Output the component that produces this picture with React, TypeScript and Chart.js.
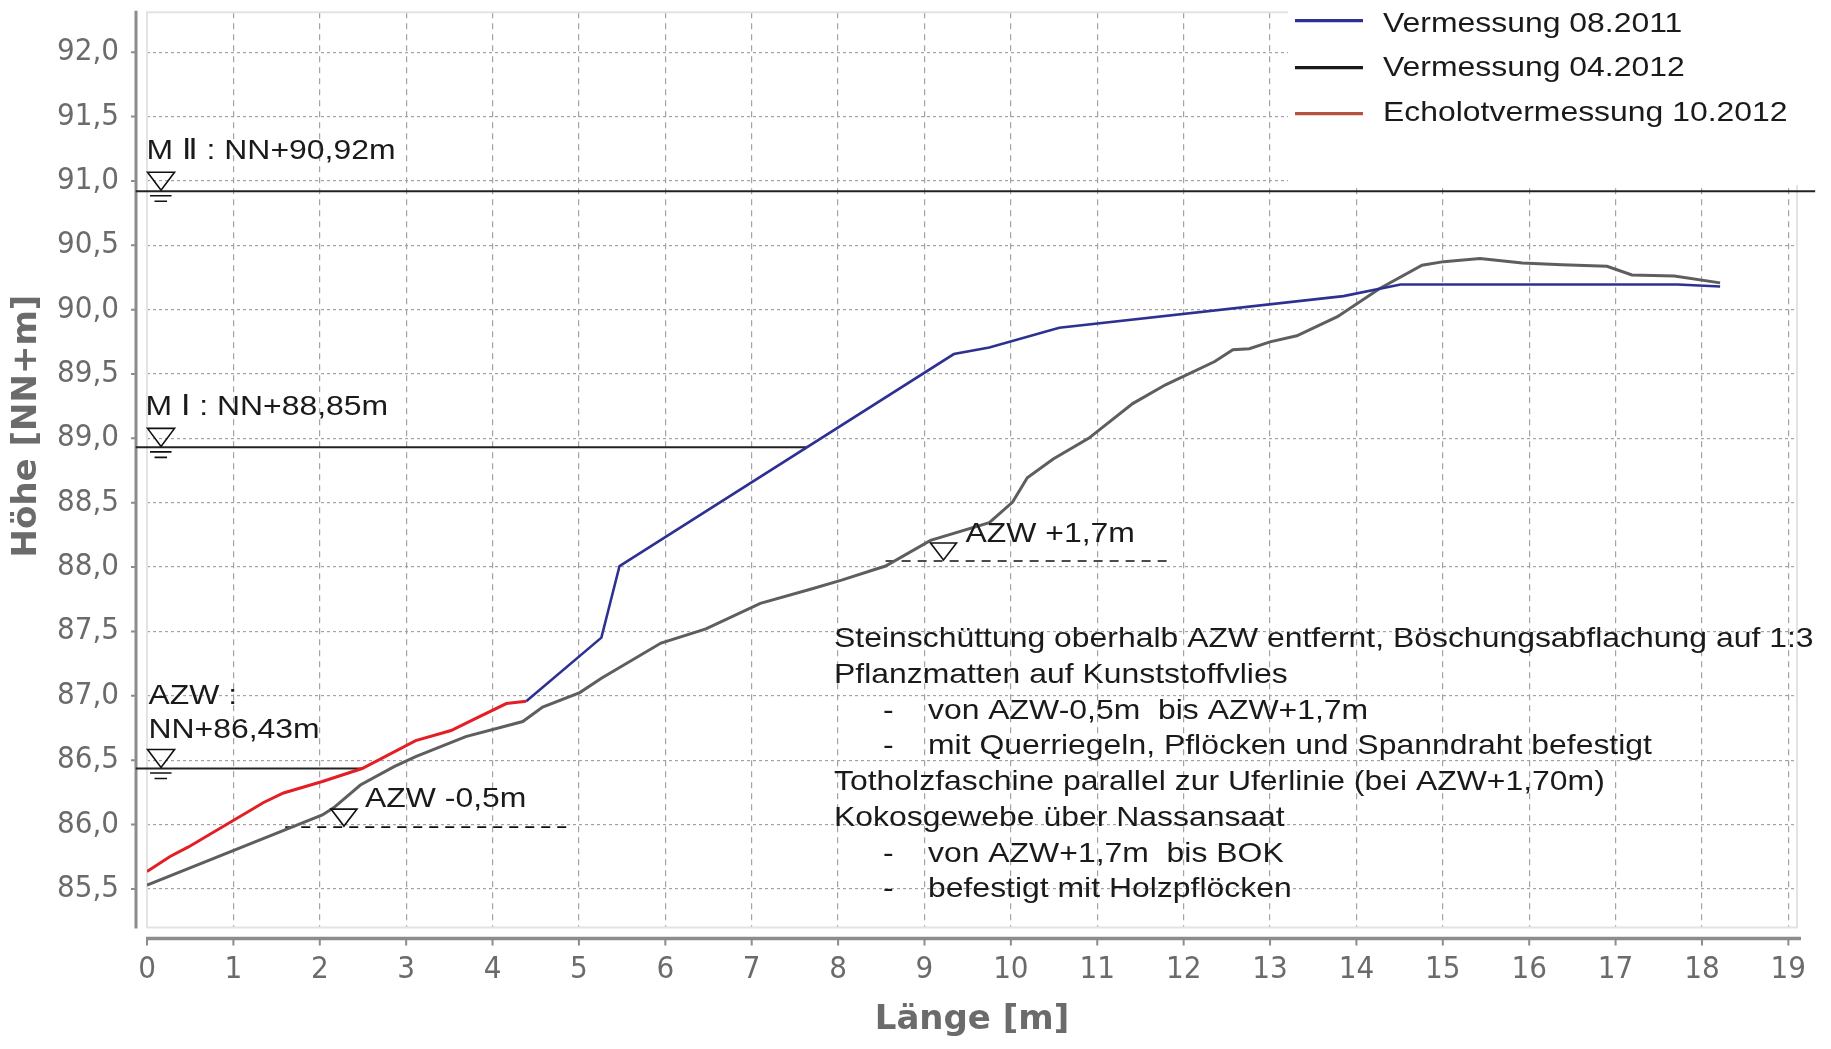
import { useEffect, useRef } from 'react';
import { Chart, registerables } from 'chart.js';

Chart.register(...registerables);

// ---------------- data ----------------
const xTickValues = [0, 1, 2, 3, 4, 5, 6, 7, 8, 9, 10, 11, 12, 13, 14, 15, 16, 17, 18, 19];
const yTickValues = [85.5, 86, 86.5, 87, 87.5, 88, 88.5, 89, 89.5, 90, 90.5, 91, 91.5, 92];

const laenge2011 = [4.39, 5.26, 5.47, 9.34, 9.75, 10.56, 13.85, 14.51, 17.72, 18.21];
const hoehe2011 = [86.957, 87.452, 88.008, 89.655, 89.706, 89.86, 90.105, 90.195, 90.195, 90.18];

const laenge2012 = [0, 2.03, 2.16, 2.47, 2.86, 3.11, 3.69, 4.35, 4.58, 5.01, 5.26, 5.95, 6.47, 7.1, 7.7, 8.04, 8.55, 9.07, 9.75, 10.02, 10.19, 10.49, 10.9, 11.41, 11.79, 12.36, 12.57, 12.76, 13.0, 13.31, 13.78, 14.27, 14.76, 15.01, 15.43, 15.92, 16.38, 16.9, 17.19, 17.68, 18.21];
const hoehe2012 = [85.529, 86.074, 86.13, 86.307, 86.45, 86.528, 86.683, 86.8, 86.913, 87.025, 87.136, 87.41, 87.52, 87.718, 87.832, 87.899, 88.008, 88.207, 88.345, 88.505, 88.694, 88.84, 89.0, 89.27, 89.416, 89.597, 89.688, 89.697, 89.75, 89.797, 89.945, 90.164, 90.345, 90.373, 90.397, 90.363, 90.348, 90.337, 90.27, 90.262, 90.208];

const laengeEcholot = [0, 0.267, 0.48, 1.35, 1.58, 2.03, 2.49, 3.11, 3.52, 3.73, 4.16, 4.39];
const hoeheEcholot = [85.635, 85.752, 85.826, 86.171, 86.245, 86.334, 86.435, 86.652, 86.73, 86.8, 86.94, 86.957];

// water levels (as drawn)
const mIILaenge = [-0.13, 19.31];
const mIIHoehe = [90.92, 90.92];
const mILaenge = [-0.13, 7.64];
const mIHoehe = [88.93, 88.93];
const azwLaenge = [-0.13, 2.49];
const azwHoehe = [86.435, 86.435];
const azwMinusLaenge = [1.6, 4.91];
const azwMinusHoehe = [85.98, 85.98];
const azwPlusLaenge = [8.55, 11.87];
const azwPlusHoehe = [88.047, 88.047];

const symbolLaenge = [0.1625, 0.1625, 0.1625, 2.28, 9.22];
const symbolHoehe = [90.92, 88.93, 86.435, 85.98, 88.047];

const legendLabels = ['Vermessung 08.2011', 'Vermessung 04.2012', 'Echolotvermessung 10.2012'];
const legendColors = ['#2e3192', '#1a1a1a', '#b5533c'];

const noteLines = [
  'Steinschüttung oberhalb AZW entfernt, Böschungsabflachung auf 1:3',
  'Pflanzmatten auf Kunststoffvlies',
  '- von AZW-0,5m  bis AZW+1,7m',
  '- mit Querriegeln, Pflöcken und Spanndraht befestigt',
  'Totholzfaschine parallel zur Uferlinie (bei AZW+1,70m)',
  'Kokosgewebe über Nassansaat',
  '- von AZW+1,7m  bis BOK',
  '- befestigt mit Holzpflöcken',
];

const zip = (xs: number[], ys: number[]) => xs.map((x, i) => ({ x, y: ys[i] }));

// ---------------- styles ----------------
const TEXT = '#1a1a1a';
const TICK = '#6b6b6b';
const AXIS = '#8c8c8c';
const SANS = '"Liberation Sans", Arial, "DejaVu Sans", sans-serif';
const SX = 1.14;

function stretchText(ctx: CanvasRenderingContext2D, s: string, x: number, y: number, size = 28, sx = SX) {
  ctx.save();
  ctx.font = `${size}px ${SANS}`;
  ctx.fillStyle = TEXT;
  ctx.textAlign = 'left';
  ctx.textBaseline = 'alphabetic';
  ctx.translate(x, y);
  ctx.scale(sx, 1);
  ctx.fillText(s, 0, 0);
  ctx.restore();
}

function levelSymbol(ctx: CanvasRenderingContext2D, ax: number, ay: number, w: number, h: number, bars: boolean) {
  ctx.save();
  ctx.strokeStyle = '#111';
  ctx.lineWidth = 1.6;
  ctx.beginPath();
  ctx.moveTo(ax - w / 2, ay - h);
  ctx.lineTo(ax + w / 2, ay - h);
  ctx.lineTo(ax, ay);
  ctx.closePath();
  ctx.stroke();
  if (bars) {
    ctx.beginPath();
    ctx.moveTo(ax - 11, ay + 5.5);
    ctx.lineTo(ax + 10.5, ay + 5.5);
    ctx.moveTo(ax - 6.5, ay + 11);
    ctx.lineTo(ax + 6, ay + 11);
    ctx.stroke();
  }
  ctx.restore();
}

const decorPlugin = {
  id: 'decor',
  beforeDatasetsDraw(chart: any) {
    const { ctx, chartArea: a, scales } = chart;
    const x = scales.x;
    const y = scales.y;
    ctx.save();
    // plot frame
    ctx.strokeStyle = '#e3e3e3';
    ctx.lineWidth = 2;
    ctx.strokeRect(a.left, a.top, a.right - a.left, a.bottom - a.top);
    // legend background
    ctx.fillStyle = '#ffffff';
    ctx.fillRect(x.getPixelForValue(13) + 18, 0, chart.width, 185);
    // y axis line + ticks
    ctx.strokeStyle = AXIS;
    ctx.lineWidth = 3;
    ctx.beginPath();
    ctx.moveTo(a.left - 11, a.top - 1.5);
    ctx.lineTo(a.left - 11, a.bottom + 1);
    ctx.stroke();
    ctx.lineWidth = 2;
    ctx.beginPath();
    for (const v of yTickValues) {
      const py = y.getPixelForValue(v);
      ctx.moveTo(a.left - 16, py);
      ctx.lineTo(a.left - 11, py);
    }
    ctx.stroke();
    // x axis line + ticks
    ctx.lineWidth = 3.5;
    ctx.beginPath();
    ctx.moveTo(a.left - 1, a.bottom + 11);
    ctx.lineTo(a.right + 4, a.bottom + 11);
    ctx.stroke();
    ctx.lineWidth = 2;
    ctx.beginPath();
    for (const v of xTickValues) {
      const px = x.getPixelForValue(v);
      ctx.moveTo(px, a.bottom + 11);
      ctx.lineTo(px, a.bottom + 18);
    }
    ctx.stroke();
    ctx.restore();
  },
  afterDatasetsDraw(chart: any) {
    const { ctx, chartArea: a, scales } = chart;
    const x = scales.x;
    const y = scales.y;
    ctx.save();

    // level symbols
    symbolLaenge.forEach((lx, i) => {
      const px = x.getPixelForValue(lx);
      const py = y.getPixelForValue(symbolHoehe[i]) - 1;
      if (i < 3) levelSymbol(ctx, px, py, 27, 18, true);
      else levelSymbol(ctx, px, py, 26, 17, false);
    });

    // level labels
    const yMII = y.getPixelForValue(mIIHoehe[0]);
    const yMI = y.getPixelForValue(mIHoehe[0]);
    const yAZW = y.getPixelForValue(azwHoehe[0]);
    const yMinus = y.getPixelForValue(azwMinusHoehe[0]);
    const yPlus = y.getPixelForValue(azwPlusHoehe[0]);
    stretchText(ctx, 'M Ⅱ : NN+90,92m', a.left - 0.5, yMII - 32);
    stretchText(ctx, 'M Ⅰ : NN+88,85m', a.left - 1.5, yMI - 32);
    stretchText(ctx, 'AZW :', a.left + 1.5, yAZW - 65);
    stretchText(ctx, 'NN+86,43m', a.left + 1.5, yAZW - 30.5);
    stretchText(ctx, 'AZW -0,5m', x.getPixelForValue(symbolLaenge[3]) + 21, yMinus - 20.5);
    stretchText(ctx, 'AZW +1,7m', x.getPixelForValue(symbolLaenge[4]) + 22, yPlus - 19);

    // note block
    const nx = a.left + 687;
    const ny = a.top + 635;
    noteLines.forEach((line, i) => {
      const by = ny + i * 35.7;
      if (line.startsWith('- ')) {
        stretchText(ctx, '-', nx + 49, by);
        stretchText(ctx, line.slice(2), nx + 94, by);
      } else {
        stretchText(ctx, line, nx, by);
      }
    });

    // legend
    const lx0 = 1295;
    const lineYs = [20.7, 67.7, 113.7];
    const baseYs = [32.3, 76, 120.7];
    legendLabels.forEach((lab, i) => {
      ctx.strokeStyle = legendColors[i];
      ctx.lineWidth = 3.2;
      ctx.beginPath();
      ctx.moveTo(lx0, lineYs[i]);
      ctx.lineTo(lx0 + 68, lineYs[i]);
      ctx.stroke();
      stretchText(ctx, lab, lx0 + 88, baseYs[i], 28, 1.14);
    });

    // y axis title
    ctx.translate(27, 426);
    ctx.rotate(-Math.PI / 2);
    ctx.font = `bold 34px "DejaVu Sans", sans-serif`;
    ctx.fillStyle = TICK;
    ctx.textAlign = 'center';
    ctx.textBaseline = 'middle';
    ctx.fillText('Höhe [NN+m]', 0, 0);
    ctx.restore();
  },
};

const tickFont = { family: '"DejaVu Sans Condensed", "DejaVu Sans", sans-serif', size: 31 };

export default function App() {
  const ref = useRef<HTMLCanvasElement>(null);
  useEffect(() => {
    document.body.style.margin = '0';
    const levelStyle = { borderColor: '#222222', borderWidth: 2, pointRadius: 0, clip: false as const, tension: 0 };
    const dashStyle = { borderColor: '#111111', borderWidth: 1.6, borderDash: [9, 7], pointRadius: 0, clip: false as const, tension: 0 };
    const chart = new Chart(ref.current as HTMLCanvasElement, {
      type: 'line',
      data: {
        datasets: [
          { label: 'Echolotvermessung 10.2012', data: zip(laengeEcholot, hoeheEcholot), borderColor: '#e31e24', borderWidth: 3, pointRadius: 0, tension: 0 },
          { label: 'Vermessung 08.2011', data: zip(laenge2011, hoehe2011), borderColor: '#2e3192', borderWidth: 2.6, pointRadius: 0, tension: 0 },
          { label: 'Vermessung 04.2012', data: zip(laenge2012, hoehe2012), borderColor: '#5e5e5e', borderWidth: 3, pointRadius: 0, tension: 0 },
          { label: 'M II', data: zip(mIILaenge, mIIHoehe), ...levelStyle },
          { label: 'M I', data: zip(mILaenge, mIHoehe), ...levelStyle },
          { label: 'AZW', data: zip(azwLaenge, azwHoehe), ...levelStyle },
          { label: 'AZW -0,5m', data: zip(azwMinusLaenge, azwMinusHoehe), ...dashStyle },
          { label: 'AZW +1,7m', data: zip(azwPlusLaenge, azwPlusHoehe), ...dashStyle },
        ],
      },
      options: {
        responsive: false,
        animation: false,
        devicePixelRatio: 1,
        events: [],
        layout: { padding: { left: 0, top: 12.3, right: 34, bottom: 0 } },
        plugins: { legend: { display: false }, tooltip: { enabled: false } },
        scales: {
          x: {
            type: 'linear',
            min: 0,
            max: 19.1,
            afterBuildTicks: (s: any) => { s.ticks = xTickValues.map((v) => ({ value: v })); },
            afterFit: (s: any) => { s.height = 121.5; s.paddingLeft = 0; s.paddingRight = 0; },
            ticks: { autoSkip: false, maxRotation: 0, padding: 24, font: tickFont, color: TICK, callback: (v: any) => String(v) },
            grid: { color: '#a3a3a3', lineWidth: 1.2, drawTicks: false },
            border: { display: false, dash: [6, 5] },
            title: { display: true, text: 'Länge [m]', color: TICK, font: { family: '"DejaVu Sans", sans-serif', size: 34, weight: 'bold' }, padding: { top: 0, bottom: 8 } },
          },
          y: {
            type: 'linear',
            min: 85.2,
            max: 92.31,
            afterBuildTicks: (s: any) => { s.ticks = yTickValues.map((v) => ({ value: v })); },
            afterFit: (s: any) => { s.width = 147; s.paddingTop = 0; s.paddingBottom = 0; },
            ticks: { padding: 28, font: tickFont, color: TICK, callback: (v: any) => Number(v).toFixed(1).replace('.', ',') },
            grid: { color: '#a3a3a3', lineWidth: 1.2, drawTicks: false },
            border: { display: false, dash: [3, 3] },
          },
        },
      },
      plugins: [decorPlugin],
    });
    return () => chart.destroy();
  }, []);
  return (
    <div style={{ width: 1831, height: 1049, background: '#ffffff' }}>
      <canvas ref={ref} width={1831} height={1049} style={{ display: 'block' }} />
    </div>
  );
}
